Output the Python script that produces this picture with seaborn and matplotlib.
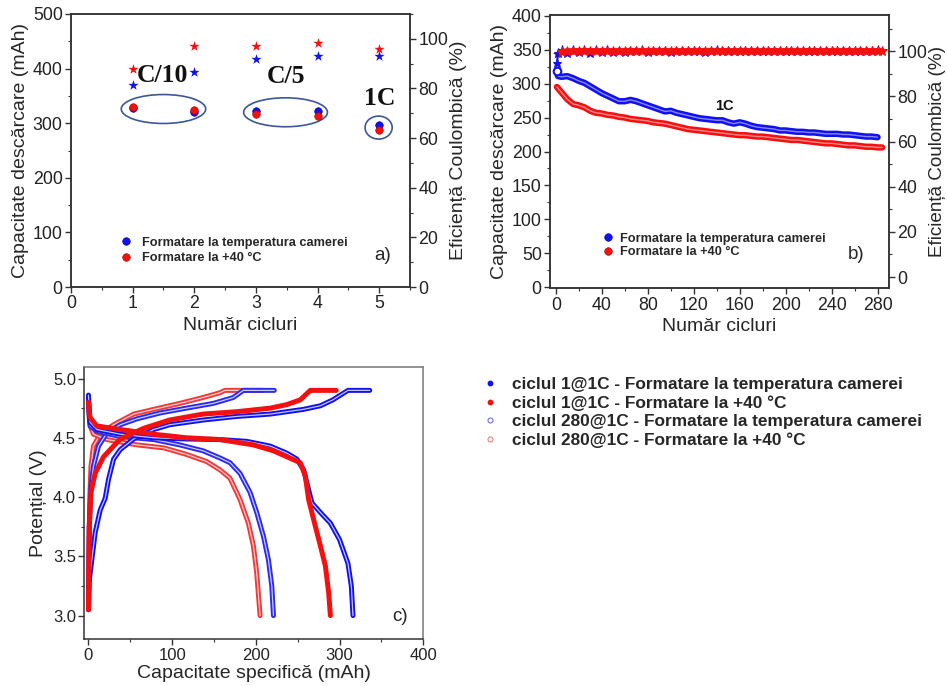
import matplotlib
matplotlib.use("Agg")
import matplotlib.pyplot as plt
import seaborn as sns
import pandas as pd
from matplotlib.lines import Line2D
from matplotlib.patches import Ellipse
from matplotlib.ticker import MultipleLocator

# ---------------- data: panel a ----------------
cycles_a = [1, 2, 3, 4, 5]
cap_a_rt = [327, 321, 323, 323, 297]
cap_a_40 = [329, 325, 316, 314, 288]
ce_a_rt = [81.5, 86.8, 91.9, 93.0, 93.2]
ce_a_40 = [87.9, 97.2, 97.2, 98.2, 96.0]
rate_labels = ["C/10", "C/5", "1C"]

# ---------------- data: panel b ----------------
cycles_b_rt = [1, 2, 5, 10, 15, 20, 25, 30, 35, 40, 45, 50, 55, 60, 65, 70, 75, 80, 85, 90,
               95, 100, 105, 110, 115, 120, 125, 130, 135, 140, 145, 150, 155, 160, 165, 170,
               175, 180, 185, 190, 195, 200, 205, 210, 215, 220, 225, 230, 235, 240, 245, 250,
               255, 260, 265, 270, 275, 280]
cap_b_rt = [318, 311, 310, 311, 308, 304, 301, 296, 291, 286, 282, 278, 274, 274, 276, 274,
            271, 268, 265, 262, 259, 260, 257, 255, 253, 251, 249, 248, 247, 246, 246, 243,
            241, 243, 241, 238, 236, 235, 234, 233, 231, 231, 230, 229, 229, 228, 228, 227,
            226, 226, 226, 225, 225, 224, 223, 222, 222, 221]
cycles_b_40 = [1, 5, 10, 15, 20, 25, 30, 35, 40, 45, 50, 55, 60, 65, 70, 75, 80, 85, 90, 95,
               100, 105, 110, 115, 120, 125, 130, 135, 140, 145, 150, 155, 160, 165, 170, 175,
               180, 185, 190, 195, 200, 205, 210, 215, 220, 225, 230, 235, 240, 245, 250, 255,
               260, 265, 270, 275, 280, 284]
cap_b_40 = [295, 287, 277, 270, 268, 265, 260, 257, 256, 254, 253, 251, 250, 248, 247, 246,
            245, 243, 242, 241, 239, 237, 235, 233, 232, 231, 230, 229, 228, 227, 226, 225,
            224, 224, 223, 222, 222, 221, 220, 219, 218, 217, 217, 216, 215, 214, 213, 212,
            212, 211, 210, 209, 209, 208, 207, 207, 206, 206]
ce_b_rt = [94.7, 99.0, 100.6, 99.3, 100.7, 99.5, 100.6, 99.0, 100.3, 99.7, 100.3, 99.8, 100.2,
           99.8, 100.2, 99.9, 100.3, 99.8, 100.1, 99.9, 100.2, 99.7, 100.2, 99.9, 100.1, 100.0,
           100.2, 99.8, 100.1, 100.3, 99.9, 100.1, 100.0, 100.2, 99.9, 100.1, 100.0, 100.2,
           99.9, 100.1, 100.0, 100.2, 99.9, 100.1, 100.0, 100.2, 99.9, 100.1, 100.0, 100.2,
           99.9, 100.1, 100.0, 100.2, 99.9, 100.1, 100.0, 100.3]
ce_b_40 = [98.8, 99.6, 99.9, 100.0, 100.0, 100.0, 100.0, 100.0, 100.0, 100.0, 100.0, 100.0,
           100.0, 100.0, 100.0, 100.0, 100.0, 100.0, 100.0, 100.0, 100.0, 100.0, 100.0, 100.0,
           100.0, 100.0, 100.0, 100.0, 100.0, 100.0, 100.0, 100.0, 100.0, 100.0, 100.0, 100.0,
           100.0, 100.0, 100.0, 100.0, 100.0, 100.0, 100.0, 100.0, 100.0, 100.0, 100.0, 100.0,
           100.0, 100.0, 100.0, 100.0, 100.0, 100.0, 100.0, 100.0, 100.0, 100.0]

# ---------------- data: panel c (capacity mAh, potential V) ----------------
c1_rt_chg_cap = [0, 1, 4, 8, 14, 20, 24, 30, 38, 54, 78, 97, 137, 177, 217, 257, 277, 292, 310, 336]
c1_rt_chg_v = [3.05, 3.30, 3.47, 3.70, 3.89, 3.99, 4.15, 4.32, 4.40, 4.49, 4.57, 4.61, 4.65,
               4.68, 4.70, 4.74, 4.77, 4.82, 4.90, 4.90]
c1_rt_dis_cap = [0, 1, 2, 10, 38, 78, 117, 157, 189, 217, 237, 249, 257, 263, 267, 277, 289,
                 300, 310, 314, 316]
c1_rt_dis_v = [4.86, 4.70, 4.63, 4.57, 4.53, 4.50, 4.49, 4.485, 4.47, 4.43, 4.37, 4.32, 4.23,
               4.06, 3.95, 3.87, 3.78, 3.64, 3.44, 3.25, 3.00]
c1_40_chg_cap = [0, 0.5, 1, 3, 8, 18, 38, 66, 97, 137, 177, 217, 237, 253, 265, 296]
c1_40_chg_v = [3.05, 3.40, 3.75, 4.04, 4.20, 4.34, 4.49, 4.58, 4.65, 4.70, 4.72, 4.75, 4.78,
               4.82, 4.90, 4.90]
c1_40_dis_cap = [0, 1, 2, 10, 38, 78, 117, 157, 197, 221, 237, 253, 259, 263, 269, 277, 283,
                 287, 289]
c1_40_dis_v = [4.80, 4.72, 4.67, 4.60, 4.57, 4.53, 4.50, 4.485, 4.44, 4.39, 4.34, 4.29, 4.18,
               3.98, 3.81, 3.59, 3.42, 3.19, 3.00]
c280_rt_chg_cap = [0, 0.5, 1, 3, 6, 12, 22, 38, 58, 86, 117, 149, 173, 185, 222]
c280_rt_chg_v = [3.05, 3.40, 3.75, 4.09, 4.26, 4.43, 4.54, 4.61, 4.66, 4.71, 4.75, 4.79, 4.84,
                 4.90, 4.90]
c280_rt_dis_cap = [0, 1, 2, 10, 38, 78, 109, 137, 157, 169, 181, 193, 201, 209, 215, 219, 221]
c280_rt_dis_v = [4.85, 4.68, 4.60, 4.555, 4.51, 4.485, 4.44, 4.39, 4.33, 4.29, 4.20, 4.04,
                 3.87, 3.67, 3.47, 3.25, 3.00]
c280_40_chg_cap = [0, 0.3, 0.7, 1.5, 3, 6, 14, 30, 54, 78, 109, 137, 157, 163, 208]
c280_40_chg_v = [3.05, 3.35, 3.61, 3.98, 4.26, 4.43, 4.53, 4.61, 4.70, 4.74, 4.79, 4.84, 4.88,
                 4.90, 4.90]
c280_40_dis_cap = [0, 1, 2, 6, 22, 58, 90, 117, 141, 157, 169, 181, 191, 197, 201, 205]
c280_40_dis_v = [4.82, 4.68, 4.60, 4.53, 4.485, 4.44, 4.415, 4.36, 4.30, 4.23, 4.16, 3.98,
                 3.78, 3.59, 3.36, 3.00]

legend_ab = ["Formatare la temperatura camerei", "Formatare la +40 °C"]
legend_c = ["ciclul 1@1C - Formatare la temperatura camerei",
            "ciclul 1@1C - Formatare la +40 °C",
            "ciclul 280@1C - Formatare la temperatura camerei",
            "ciclul 280@1C - Formatare la +40 °C"]

BLUE = "#1010f0"
RED = "#f51010"
BLUE_L = "#2a2af0"
RED_L = "#f03a3a"
SPINE = "#333333"

sns.set_theme(style="ticks")
plt.rcParams["font.family"] = ["Liberation Sans", "DejaVu Sans"]
plt.rcParams["axes.edgecolor"] = SPINE
plt.rcParams["axes.linewidth"] = 1.1
plt.rcParams["xtick.color"] = SPINE
plt.rcParams["ytick.color"] = SPINE
plt.rcParams["xtick.labelcolor"] = "#222222"
plt.rcParams["ytick.labelcolor"] = "#222222"

fig = plt.figure(figsize=(9.47, 6.86), dpi=100)

TICK_FS = 12.8
LAB_FS = 14


def style_ticks(ax, fs=TICK_FS):
    ax.tick_params(which="major", direction="out", length=4, width=1, labelsize=fs, pad=2)
    ax.tick_params(which="minor", direction="out", length=2.5, width=0.8)


# ================= panel a =================
ax_a = fig.add_axes([0.0750, 0.5816, 0.3580, 0.3980])
sns.scatterplot(x=cycles_a, y=cap_a_rt, color=BLUE, s=30, edgecolor="#0000a0", linewidth=0.4,
                ax=ax_a, legend=False, zorder=3)
sns.scatterplot(x=cycles_a, y=cap_a_40, color=RED, s=30, edgecolor="#a00000", linewidth=0.4,
                ax=ax_a, legend=False, zorder=3)
ax_a.set_xlim(0, 5.5)
ax_a.set_ylim(0, 500)
ax_a.xaxis.set_major_locator(MultipleLocator(1))
ax_a.xaxis.set_minor_locator(MultipleLocator(0.5))
ax_a.yaxis.set_major_locator(MultipleLocator(100))
ax_a.yaxis.set_minor_locator(MultipleLocator(50))
style_ticks(ax_a)
ax_a.set_xlabel("Număr cicluri", fontsize=LAB_FS, labelpad=3)
ax_a.set_ylabel("Capacitate descărcare (mAh)", fontsize=LAB_FS, labelpad=3)

for (cx, cy, w, h) in [(1.5, 326, 1.37, 53), (3.48, 320, 1.36, 53), (4.99, 292, 0.44, 42)]:
    ax_a.add_patch(Ellipse((cx, cy), w, h, fill=False, ec="#3b5897", lw=1.2, zorder=2))
for lab, (tx, ty) in zip(rate_labels, [(1.485, 388), (3.49, 386), (5.0, 346)]):
    ax_a.text(tx, ty, lab, ha="center", va="center", fontsize=18.5, fontweight="bold",
              family=["Liberation Serif", "DejaVu Serif"], color="#111111")
ax_a.text(0.92, 0.117, "a)", transform=ax_a.transAxes, ha="center", va="center", fontsize=13.5)

ax_a2 = ax_a.twinx()
sns.scatterplot(x=cycles_a, y=ce_a_rt, color=BLUE, marker="*", s=60, linewidth=0, ax=ax_a2,
                legend=False)
sns.scatterplot(x=cycles_a, y=ce_a_40, color=RED, marker="*", s=60, linewidth=0, ax=ax_a2,
                legend=False)
ax_a2.set_ylim(0, 110)
ax_a2.yaxis.set_major_locator(MultipleLocator(20))
ax_a2.yaxis.set_minor_locator(MultipleLocator(10))
style_ticks(ax_a2)
ax_a2.set_ylabel("Eficiență Coulombică (%)", fontsize=LAB_FS, labelpad=1.5)

h_ab = [Line2D([], [], ls="none", marker="o", ms=5.5, mfc=BLUE, mec="#0000a0", mew=0.4),
        Line2D([], [], ls="none", marker="o", ms=5.5, mfc=RED, mec="#a00000", mew=0.4)]
ax_a.legend(h_ab, legend_ab, loc="center left", bbox_to_anchor=(0.143, 0.134), frameon=False,
            handlelength=1.0, handletextpad=0.73, labelspacing=0.25,
            borderpad=0, borderaxespad=0, prop={"weight": "bold", "size": 9.2})

# ================= panel b =================
ax_b = fig.add_axes([0.5808, 0.5797, 0.3580, 0.3984])
for cyc, cap, col in [(cycles_b_rt, cap_b_rt, BLUE), (cycles_b_40, cap_b_40, RED)]:
    sns.lineplot(x=cyc, y=cap, color=col, lw=4.6, sort=False, estimator=None, ax=ax_b,
                 legend=False)
    sns.lineplot(x=cyc, y=cap, color="white", lw=1.0, alpha=0.5, sort=False, estimator=None,
                 ax=ax_b, legend=False)
sns.scatterplot(x=cycles_b_rt[:1], y=cap_b_rt[:1], color="white", edgecolor=BLUE, s=30,
                linewidth=1.5, ax=ax_b, legend=False, zorder=4)
ax_b.set_xlim(-5, 290)
ax_b.set_ylim(-1.5, 401)
ax_b.xaxis.set_major_locator(MultipleLocator(40))
ax_b.xaxis.set_minor_locator(MultipleLocator(20))
ax_b.yaxis.set_major_locator(MultipleLocator(50))
ax_b.yaxis.set_minor_locator(MultipleLocator(25))
style_ticks(ax_b)
ax_b.set_xlabel("Număr cicluri", fontsize=LAB_FS, labelpad=3)
ax_b.set_ylabel("Capacitate descărcare (mAh)", fontsize=LAB_FS, labelpad=3)
ax_b.text(147, 267, "1C", ha="center", va="center", fontsize=10.5, fontweight="bold",
          color="#111111")
ax_b.text(0.903, 0.122, "b)", transform=ax_b.transAxes, ha="center", va="center",
          fontsize=13.5)

ax_b2 = ax_b.twinx()
sns.lineplot(x=cycles_b_rt, y=ce_b_rt, color=BLUE, lw=1.5, marker="*", ms=6.5, mec=BLUE,
             sort=False, estimator=None, ax=ax_b2, legend=False)
sns.lineplot(x=cycles_b_40[1:], y=ce_b_40[1:], color=RED, lw=4.5, marker="*", ms=7.5, mec=RED,
             sort=False, estimator=None, ax=ax_b2, legend=False)
sns.scatterplot(x=cycles_b_40[:1], y=ce_b_40[:1], color=RED, marker="*", s=50, linewidth=0,
                ax=ax_b2, legend=False)
ax_b2.set_ylim(-5, 116)
ax_b2.yaxis.set_major_locator(MultipleLocator(20))
ax_b2.yaxis.set_minor_locator(MultipleLocator(10))
style_ticks(ax_b2)
ax_b2.set_ylabel("Eficiență Coulombică (%)", fontsize=13.6, labelpad=1)

ax_b.legend(h_ab, legend_ab, loc="center left", bbox_to_anchor=(0.151, 0.156), frameon=False,
            handlelength=1.0, handletextpad=0.46, labelspacing=0.12,
            borderpad=0, borderaxespad=0, prop={"weight": "bold", "size": 9.2})

# ================= panel c =================
ax_c = fig.add_axes([0.0890, 0.0681, 0.3580, 0.3974])
curves = [
    (c280_40_chg_cap, c280_40_chg_v, RED_L, True),
    (c280_40_dis_cap, c280_40_dis_v, RED_L, True),
    (c280_rt_chg_cap, c280_rt_chg_v, BLUE_L, True),
    (c280_rt_dis_cap, c280_rt_dis_v, BLUE_L, True),
    (c1_rt_chg_cap, c1_rt_chg_v, BLUE, True),
    (c1_rt_dis_cap, c1_rt_dis_v, BLUE, True),
    (c1_40_chg_cap, c1_40_chg_v, RED, False),
    (c1_40_dis_cap, c1_40_dis_v, RED, False),
]
for xs, ys, col, hollow in curves:
    sns.lineplot(x=xs, y=ys, color=col, lw=3.6, sort=False, estimator=None, ax=ax_c,
                 legend=False, solid_capstyle="round")
    if hollow:
        sns.lineplot(x=xs, y=ys, color="white", lw=0.9, alpha=0.75, sort=False,
                     estimator=None, ax=ax_c, legend=False)
ax_c.set_xlim(-5, 400)
ax_c.set_ylim(2.8, 5.1)
ax_c.xaxis.set_major_locator(MultipleLocator(100))
ax_c.xaxis.set_minor_locator(MultipleLocator(50))
ax_c.yaxis.set_major_locator(MultipleLocator(0.5))
ax_c.yaxis.set_minor_locator(MultipleLocator(0.25))
ax_c.yaxis.set_major_formatter(matplotlib.ticker.FormatStrFormatter("%.1f"))
style_ticks(ax_c, fs=12)
for sp in ["top", "right"]:
    ax_c.spines[sp].set_color("#777777")
ax_c.set_xlabel("Capacitate specifică (mAh)", fontsize=LAB_FS, labelpad=2)
ax_c.set_ylabel("Potențial (V)", fontsize=LAB_FS, labelpad=4)
ax_c.text(0.931, 0.085, "c)", transform=ax_c.transAxes, ha="center", va="center",
          fontsize=13.5)

h_c = [Line2D([], [], ls="none", marker="o", ms=3.2, mfc=BLUE, mec=BLUE),
       Line2D([], [], ls="none", marker="o", ms=3.2, mfc=RED, mec=RED),
       Line2D([], [], ls="none", marker="o", ms=3.6, mfc="white", mec="#7070f0", mew=0.8),
       Line2D([], [], ls="none", marker="o", ms=3.6, mfc="white", mec="#f08080", mew=0.8)]
fig.legend(h_c, legend_c, loc="center left", bbox_to_anchor=(0.5083, 0.3987), frameon=False,
           handlelength=1.0, handletextpad=0.76, labelspacing=0.2, borderpad=0,
           borderaxespad=0, prop={"weight": "bold", "size": 12.4})

fig.savefig("out.png", dpi=100)
